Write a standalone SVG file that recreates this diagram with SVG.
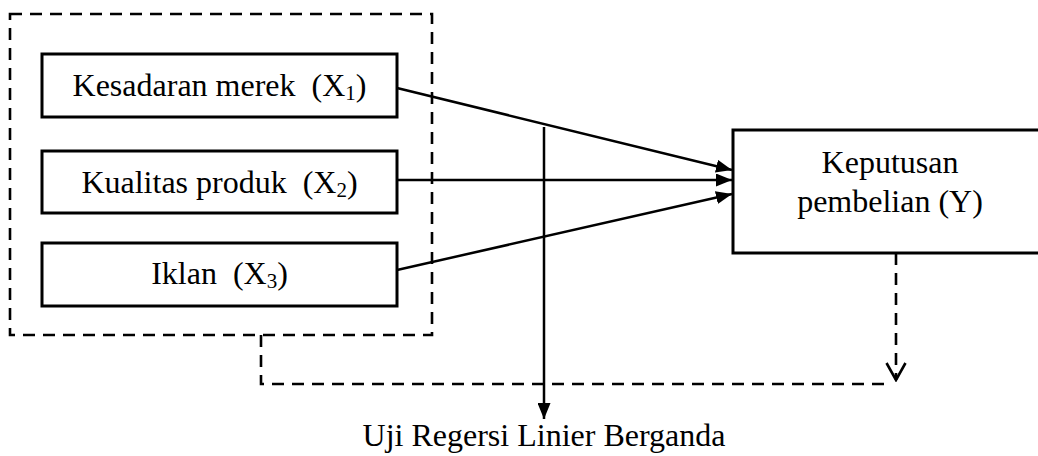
<svg xmlns="http://www.w3.org/2000/svg" width="1038" height="456" viewBox="0 0 1038 456">
<style>
.box{fill:#fff;stroke:#000;stroke-width:3}
.dash{fill:none;stroke:#000;stroke-width:2.6;stroke-dasharray:12 8}
.conn{fill:none;stroke:#000;stroke-width:2.5}
text{font-family:"Liberation Serif","Times New Roman",serif;font-size:32px;fill:#000}
.sub{font-size:21px}
</style>
<defs>
<marker id="ah" markerUnits="userSpaceOnUse" viewBox="0 0 16 13" markerWidth="16" markerHeight="13" refX="16" refY="6.5" orient="auto">
<path d="M0,0 L16,6.5 L0,13 z" fill="#000"/>
</marker>
<marker id="vopen" markerUnits="userSpaceOnUse" viewBox="-20 -12 22 24" markerWidth="22" markerHeight="24" refX="0" refY="0" orient="auto">
<path d="M-17,-9.5 L0,0 L-17,9.5" fill="none" stroke="#000" stroke-width="2.6" stroke-dasharray="none"/>
</marker>
</defs>
<rect id="group-x" class="dash" x="10" y="14" width="422" height="321"/>
<g id="x1">
<rect class="box" x="42" y="54" width="355" height="63"/>
<text x="219.5" y="96" text-anchor="middle" xml:space="preserve">Kesadaran merek  (X<tspan class="sub" dy="4">1</tspan><tspan dy="-4">)</tspan></text>
</g>
<g id="x2">
<rect class="box" x="42" y="151" width="355" height="62"/>
<text x="219.5" y="193" text-anchor="middle" xml:space="preserve">Kualitas produk  (X<tspan class="sub" dy="4">2</tspan><tspan dy="-4">)</tspan></text>
</g>
<g id="x3">
<rect class="box" x="42" y="243" width="355" height="63"/>
<text x="219.5" y="284" text-anchor="middle" xml:space="preserve">Iklan  (X<tspan class="sub" dy="4">3</tspan><tspan dy="-4">)</tspan></text>
</g>
<g id="y">
<rect class="box" x="733" y="130" width="320" height="123"/>
<text x="890" y="173" text-anchor="middle">Keputusan</text>
<text x="890" y="212" text-anchor="middle">pembelian (Y)</text>
</g>
<g id="connectors">
<line class="conn" x1="397" y1="88" x2="732" y2="170" marker-end="url(#ah)"/>
<line class="conn" x1="397" y1="180" x2="732" y2="180" marker-end="url(#ah)"/>
<line class="conn" x1="397" y1="270" x2="732" y2="194" marker-end="url(#ah)"/>
<line class="conn" x1="544" y1="127" x2="544" y2="419" marker-end="url(#ah)"/>
<polyline class="dash" points="261,335 261,384 887,384"/>
<line class="dash" x1="896" y1="253" x2="896" y2="380" marker-end="url(#vopen)"/>
</g>
<g id="label">
<text x="544" y="446" text-anchor="middle">Uji Regersi Linier Berganda</text>
</g>
</svg>
